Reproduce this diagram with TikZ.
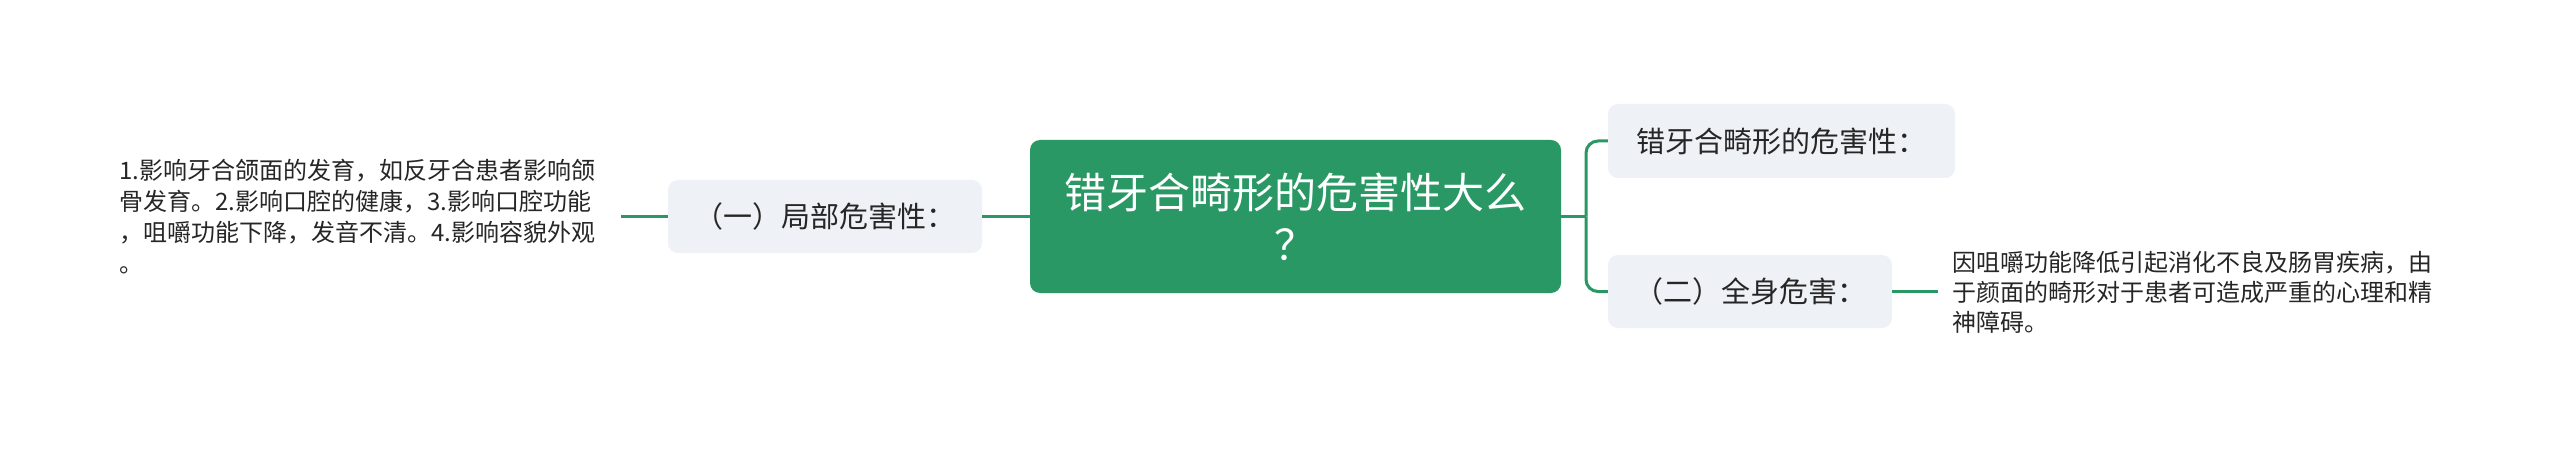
\documentclass[tikz,border=0pt]{standalone}
\usepackage{fontspec}
\newfontfamily\cjk{Noto Sans CJK SC}
\definecolor{mmgreen}{RGB}{42,152,101}
\definecolor{mmgray}{RGB}{238,241,245}
\definecolor{mmtext}{RGB}{38,38,38}
\tikzset{
  rootbox/.style={draw=none, fill=mmgreen, rounded corners=10pt, text=white, align=center,
    font=\cjk\fontsize{42}{52}\selectfont, inner sep=0pt},
  subbox/.style={draw=none, fill=mmgray, rounded corners=10pt, text=mmtext, align=center,
    font=\cjk\fontsize{29}{36}\selectfont, inner sep=0pt},
  leaftext/.style={text=mmtext, align=left, inner sep=0pt, anchor=west},
  link/.style={draw=mmgreen, line width=3pt},
}
\begin{document}
\begin{tikzpicture}[x=1pt,y=-1pt]
\useasboundingbox[fill=white] (0,0) rectangle (2560,457);
% root
\node[rootbox, minimum width=531pt, minimum height=153pt] (root) at (1295.5,216.5)
  {错牙合畸形的危害性大么\\？};
% left branch
\node[subbox, minimum width=314pt, minimum height=73pt] (n1) at (825,216.5) {（一）局部危害性：};
\node[leaftext, font=\cjk\fontsize{24}{31}\selectfont, text width=490pt] (lt) at (119,217)
  {1.影响牙合颌面的发育，如反牙合患者影响颌\\
   骨发育。2.影响口腔的健康，3.影响口腔功能\\
   ，咀嚼功能下降，发音不清。4.影响容貌外观\\
   。};
% right branch
\node[subbox, minimum width=347pt, minimum height=74pt] (nr1) at (1781.5,141) {错牙合畸形的危害性：};
\node[subbox, minimum width=284pt, minimum height=73pt] (nr2) at (1750,291.5) {（二）全身危害：};
\node[leaftext, font=\cjk\fontsize{24}{30}\selectfont] (rt) at (1952,292)
  {因咀嚼功能降低引起消化不良及肠胃疾病，由\\
   于颜面的畸形对于患者可造成严重的心理和精\\
   神障碍。};
% connectors
\coordinate (br) at (1586,216.5);
\draw[link, shorten >=12pt] (n1.west) -- (lt.east |- n1.west);
\draw[link] (root.west) -- (n1.east);
\draw[link] (root.east) -- (br);
\draw[link, rounded corners=12pt] (br) |- (nr1.west);
\draw[link, rounded corners=12pt] (br) |- (nr2.west);
\draw[link, shorten >=14pt] (nr2.east) -- (rt.west |- nr2.east);
\end{tikzpicture}
\end{document}
